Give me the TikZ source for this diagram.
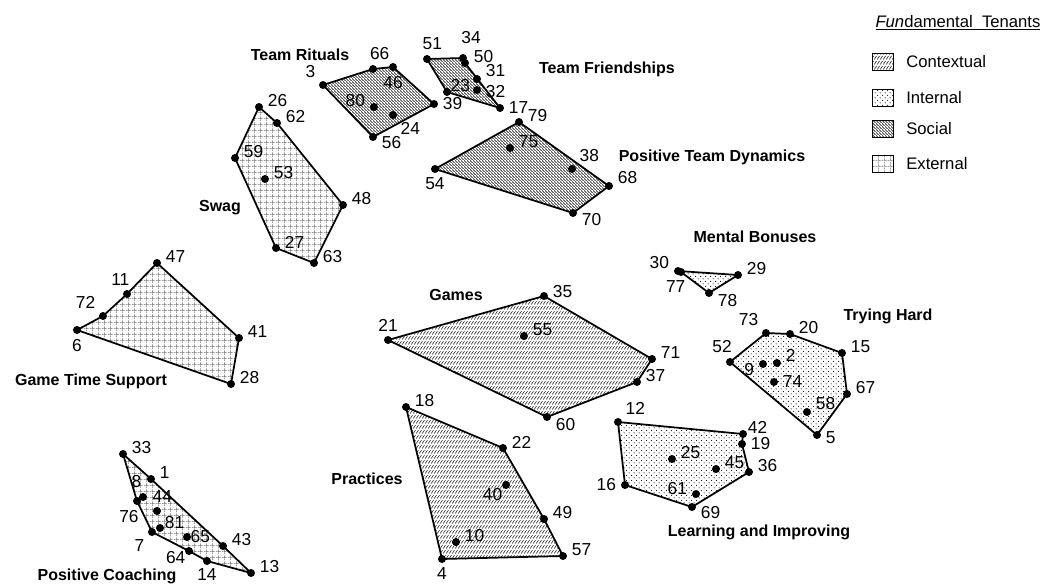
\documentclass[tikz,border=0pt]{standalone}
\usepackage{fontspec}
\setmainfont{Liberation Sans}
\usetikzlibrary{patterns,backgrounds,positioning}

% fill patterns for the four tenants
\pgfdeclarepatternformonly{ctxlines}{\pgfqpoint{0pt}{0pt}}{\pgfqpoint{2.2pt}{3.6pt}}{\pgfqpoint{2.2pt}{3.6pt}}{
  \pgfsetlinewidth{0.5pt}
  \pgfpathmoveto{\pgfqpoint{0.2pt}{0.4pt}}
  \pgfpathlineto{\pgfqpoint{1.9pt}{3pt}}
  \pgfusepath{stroke}}
\pgfdeclarepatternformonly{intdots}{\pgfqpoint{0pt}{0pt}}{\pgfqpoint{4pt}{4pt}}{\pgfqpoint{4pt}{4pt}}{
  \pgfpathcircle{\pgfqpoint{1pt}{1pt}}{0.45pt}
  \pgfpathcircle{\pgfqpoint{3pt}{3pt}}{0.45pt}
  \pgfusepath{fill}}
\pgfdeclarepatternformonly{soclines}{\pgfqpoint{0pt}{0pt}}{\pgfqpoint{2.1pt}{2.1pt}}{\pgfqpoint{2.1pt}{2.1pt}}{
  \pgfsetlinewidth{0.5pt}
  \pgfpathmoveto{\pgfqpoint{-0.2pt}{2.3pt}}
  \pgfpathlineto{\pgfqpoint{2.3pt}{-0.2pt}}
  \pgfusepath{stroke}}
\pgfdeclarepatternformonly{extgrid}{\pgfqpoint{0pt}{0pt}}{\pgfqpoint{4.5pt}{4.5pt}}{\pgfqpoint{4.5pt}{4.5pt}}{
  \pgfsetlinewidth{0.4pt}
  \pgfsetdash{{0.8pt}{0.5pt}}{0pt}
  \pgfpathmoveto{\pgfqpoint{0pt}{2.25pt}}
  \pgfpathlineto{\pgfqpoint{4.5pt}{2.25pt}}
  \pgfpathmoveto{\pgfqpoint{2.25pt}{0pt}}
  \pgfpathlineto{\pgfqpoint{2.25pt}{4.5pt}}
  \pgfusepath{stroke}}

\newcommand{\numfont}{\fontsize{13}{15}\selectfont}
\newcommand{\legfont}{\fontsize{12.5}{14}\selectfont}
\newcommand{\ttlfont}{\fontsize{12}{14}\selectfont\bfseries}

\tikzset{
  pt/.style={fill=black, circle, inner sep=0pt, minimum size=6pt},
  every label/.style={font=\numfont},
  lr/.style={label={[yshift=4.5pt]0:{#1}}},
  hull/.style={draw, line width=1.3pt, line join=round},
  contextual/.style={hull, pattern=ctxlines, pattern color=black!80},
  internal/.style={hull, pattern=intdots, pattern color=black},
  social/.style={hull, pattern=soclines, pattern color=black!85},
  external/.style={hull, pattern=extgrid, pattern color=black!60},
  title/.style={font=\ttlfont, inner sep=0pt},
  legbox/.style={draw, line width=0.6pt, minimum width=16pt, minimum height=13pt, inner sep=0pt},
  legtxt/.style={font=\legfont, inner sep=0pt, anchor=west}
}

\begin{document}
\begin{tikzpicture}[x=0.75pt, y=-0.75pt]
\useasboundingbox (0,0) rectangle (1058,583);

% Team Rituals
\node[pt, label=above left:{3}] (n3) at (323,85) {};
\node[pt, label={[xshift=5pt]above:{66}}] (n66) at (373,69) {};
\node[pt, label=below:{46}] (n46) at (393,67) {};
\node[pt, label={[yshift=5pt]left:{80}}] (n80) at (374,107) {};
\node[pt, label=below right:{24}] (n24) at (393,115) {};
\node[pt, label={[yshift=-4pt]right:{56}}] (n56) at (373,137) {};
\node[pt, label=right:{39}] (n39) at (434,104) {};
\node[title] (trituals) at (300,55) {Team Rituals};

% Team Friendships
\node[pt, label={[xshift=4pt]above:{51}}] (n51) at (427,59) {};
\node[pt, label={[xshift=6pt, yshift=4pt]above:{34}}] (n34) at (463,58) {};
\node[pt, label={[yshift=5pt]right:{50}}] (n50) at (465,63) {};
\node[pt, label={[yshift=6pt]right:{31}}] (n31) at (477,79) {};
\node[pt, label={[yshift=-1pt]right:{32}}] (n32) at (477,90) {};
\node[pt, label={[xshift=-4pt, yshift=5pt]right:{23}}] (n23) at (447,92) {};
\node[pt, label=right:{17}] (n17) at (500,108) {};
\node[title] (tfriends) at (607,69) {Team Friendships};

% Positive Team Dynamics
\node[pt, lr=79] (n79) at (519,122) {};
\node[pt, lr=75] (n75) at (510,148) {};
\node[pt, label=above right:{38}] (n38) at (572,169) {};
\node[pt, label={[yshift=6pt]right:{68}}] (n68) at (609,186) {};
\node[pt, label={[yshift=-5pt]right:{70}}] (n70) at (573,213) {};
\node[pt, label=below:{54}] (n54) at (435,169) {};
\node[title] (tdynamics) at (712,157) {Positive Team Dynamics};

% Swag
\node[pt, lr=26] (n26) at (259,107) {};
\node[pt, lr=62] (n62) at (277,123) {};
\node[pt, lr=59] (n59) at (235,158) {};
\node[pt, lr=53] (n53) at (265,179) {};
\node[pt, lr=48] (n48) at (343,205) {};
\node[pt, lr=27] (n27) at (276,248) {};
\node[pt, lr=63] (n63) at (314,263) {};
\node[title] (tswag) at (220,208) {Swag};

% Game Time Support
\node[pt, lr=47] (n47) at (157,263) {};
\node[pt, label={[xshift=-5pt]above:{11}}] (n11) at (127,294) {};
\node[pt, label=above left:{72}] (n72) at (103,316) {};
\node[pt, label=below:{6}] (n6) at (77,330) {};
\node[pt, lr=41] (n41) at (239,338) {};
\node[pt, lr=28] (n28) at (231,384) {};
\node[title] (tsupport) at (91,381) {Game Time Support};

% Positive Coaching
\node[pt, lr=33] (n33) at (123,454) {};
\node[pt, lr=1] (n1) at (151,479) {};
\node[pt, label={[xshift=-5pt]above:{8}}] (n8) at (143,497) {};
\node[pt, label={[xshift=-6pt]below:{76}}] (n76) at (137,501) {};
\node[pt, label={[xshift=4pt]above:{44}}] (n44) at (157,511) {};
\node[pt, label={[xshift=-3pt, yshift=4pt]right:{81}}] (n81) at (160,528) {};
\node[pt, label=below left:{7}] (n7) at (152,532) {};
\node[pt, label={[xshift=-4pt]right:{65}}] (n65) at (187,537) {};
\node[pt, lr=43] (n43) at (223,546) {};
\node[pt, label={[xshift=4pt, yshift=-5pt]left:{64}}] (n64) at (189,551) {};
\node[pt, label={[yshift=1pt]below:{14}}] (n14) at (207,561) {};
\node[pt, lr=13] (n13) at (251,573) {};
\node[title] (tcoaching) at (107,576) {Positive Coaching};

% Games
\node[pt, label={[yshift=3pt]right:{35}}] (n35) at (544,296) {};
\node[pt, label=above:{21}] (n21) at (388,340) {};
\node[pt, lr=55] (n55) at (524,336) {};
\node[pt, lr=71] (n71) at (652,359) {};
\node[pt, lr=37] (n37) at (637,382) {};
\node[pt, label={[yshift=-6pt]right:{60}}] (n60) at (547,417) {};
\node[title] (tgames) at (456,295) {Games};

% Practices
\node[pt, lr=18] (n18) at (406,407) {};
\node[pt, lr=22] (n22) at (503,448) {};
\node[pt, label={[xshift=3pt, yshift=3pt]below left:{40}}] (n40) at (506,485) {};
\node[pt, lr=49] (n49) at (544,519) {};
\node[pt, lr=57] (n57) at (563,556) {};
\node[pt, label=below:{4}] (n4) at (442,559) {};
\node[pt, lr=10] (n10) at (456,542) {};
\node[title] (tpractices) at (367,479) {Practices};

% Mental Bonuses
\node[pt, label={[yshift=6pt]left:{30}}] (n30) at (678,271) {};
\node[pt, label={[xshift=-4pt]below:{77}}] (n77) at (681,272) {};
\node[pt, lr=29] (n29) at (738,275) {};
\node[pt, label={[yshift=-6pt]right:{78}}] (n78) at (709,293) {};
\node[title] (tbonuses) at (755,237) {Mental Bonuses};

% Trying Hard
\node[pt, label=above left:{73}] (n73) at (766,333) {};
\node[pt, lr=20] (n20) at (790,334) {};
\node[pt, lr=15] (n15) at (842,353) {};
\node[pt, lr=67] (n67) at (847,394) {};
\node[pt, label={[yshift=-2pt]right:{5}}] (n5) at (817,435) {};
\node[pt, label={[xshift=-6pt]above:{52}}] (n52) at (730,362) {};
\node[pt, label={[yshift=6pt]right:{2}}] (n2) at (777,363) {};
\node[pt, label={[yshift=-4pt]left:{9}}] (n9) at (763,364) {};
\node[pt, label=right:{74}] (n74) at (774,382) {};
\node[pt, label={[yshift=6pt]right:{58}}] (n58) at (807,412) {};
\node[title] (thard) at (888,316) {Trying Hard};

% Learning and Improving
\node[pt, label=above right:{12}] (n12) at (618,422) {};
\node[pt, label={[xshift=-3pt, yshift=5pt]right:{42}}] (n42) at (743,434) {};
\node[pt, label=right:{19}] (n19) at (742,444) {};
\node[pt, lr=36] (n36) at (749,472) {};
\node[pt, label={[yshift=-4pt]right:{69}}] (n69) at (692,507) {};
\node[pt, label=left:{16}] (n16) at (625,485) {};
\node[pt, lr=25] (n25) at (672,459) {};
\node[pt, lr=45] (n45) at (716,469) {};
\node[pt, label={[yshift=4pt]left:{61}}] (n61) at (696,494) {};
\node[title] (tlearning) at (759,532) {Learning and Improving};

\begin{pgfonlayer}{background}
\draw[social] (n3.center) -- (n66.center) -- (n46.center) -- (n39.center) -- (n56.center) -- cycle;
\draw[social] (n51.center) -- (n34.center) -- (n50.center) -- (n17.center) -- (n23.center) -- cycle;
\draw[social] (n79.center) -- (n68.center) -- (n70.center) -- (n54.center) -- cycle;
\draw[external] (n26.center) -- (n62.center) -- (n48.center) -- (n63.center) -- (n27.center) -- (n59.center) -- cycle;
\draw[external] (n6.center) -- (n72.center) -- (n11.center) -- (n47.center) -- (n41.center) -- (n28.center) -- cycle;
\draw[external] (n33.center) -- (n1.center) -- (n43.center) -- (n13.center) -- (n14.center) -- (n64.center) -- (n7.center) -- (n76.center) -- cycle;
\draw[contextual] (n21.center) -- (n35.center) -- (n71.center) -- (n37.center) -- (n60.center) -- cycle;
\draw[contextual] (n18.center) -- (n22.center) -- (n49.center) -- (n57.center) -- (n4.center) -- cycle;
\draw[internal] (n30.center) -- (n29.center) -- (n78.center) -- (n77.center) -- cycle;
\draw[internal] (n52.center) -- (n73.center) -- (n20.center) -- (n15.center) -- (n67.center) -- (n5.center) -- cycle;
\draw[internal] (n12.center) -- (n42.center) -- (n19.center) -- (n36.center) -- (n69.center) -- (n16.center) -- cycle;
\end{pgfonlayer}

% legend
\node[font=\legfont, inner sep=0pt] (legtitle) at (958,23) {\underline{\textit{Fun}damental\ \ Tenants}};
\node[legbox, pattern=ctxlines, pattern color=black!80] (lctx) at (883,62) {};
\node[legbox, pattern=intdots, pattern color=black] (lint) at (883,98) {};
\node[legbox, pattern=soclines, pattern color=black!85] (lsoc) at (883,129) {};
\node[legbox, pattern=extgrid, pattern color=black!60] (lext) at (883,164) {};
\node[legtxt, right=9pt of lctx] (tctx) {Contextual};
\node[legtxt, right=9pt of lint] (tint) {Internal};
\node[legtxt, right=9pt of lsoc] (tsoc) {Social};
\node[legtxt, right=9pt of lext] (text) {External};
\end{tikzpicture}
\end{document}
